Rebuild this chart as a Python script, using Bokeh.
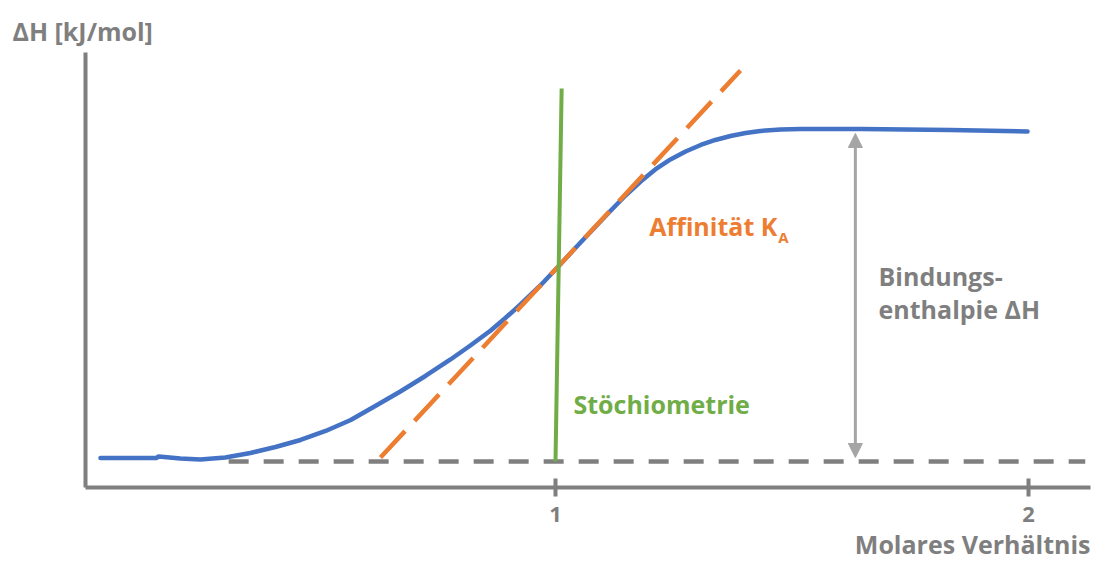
from bokeh.plotting import figure
from bokeh.models import Label, Arrow, NormalHead, Range1d, FixedTicker, Title
from bokeh.embed import file_html
from bokeh.resources import INLINE

# ---- data (molar ratio vs. enthalpy, arbitrary units: baseline 0, plateau 10) ----
curve_x = [0.038, 0.156, 0.161, 0.207, 0.249, 0.302, 0.355, 0.408, 0.461, 0.514,
           0.567, 0.619, 0.672, 0.725, 0.778, 0.820, 0.863, 0.894, 0.926, 0.968,
           1.004, 1.042, 1.080, 1.116, 1.148, 1.180, 1.211, 1.243, 1.275, 1.307,
           1.338, 1.370, 1.402, 1.433, 1.476, 1.518, 1.645, 1.835, 1.998]
curve_y = [0.105, 0.105, 0.150, 0.090, 0.060, 0.120, 0.255, 0.435, 0.646, 0.916,
           1.246, 1.667, 2.102, 2.568, 3.063, 3.483, 3.934, 4.309, 4.715, 5.285,
           5.826, 6.411, 6.982, 7.523, 7.988, 8.408, 8.769, 9.069, 9.309, 9.505,
           9.655, 9.775, 9.865, 9.925, 9.970, 9.985, 9.985, 9.955, 9.910]

tangent_x = [0.630, 1.391]          # affinity tangent (orange, dashed)
tangent_y = [0.12, 11.74]

stoich_x = [1.000, 1.013]           # stoichiometry marker (green)
stoich_y = [0.00, 11.20]

base_x = [0.309, 2.120]             # baseline (grey, dashed)
base_y = [0.0, 0.0]

arrow_x = 1.634                     # binding enthalpy arrow
arrow_y = [9.85, 0.12]

x_ticks = [1, 2]

BLUE = "#4472c4"
ORANGE = "#ed7d31"
GREEN = "#70ad47"
GREY = "#7f7f7f"
LGREY = "#a5a5a5"
FONT = "Open Sans"

p = figure(width=1094, height=561,
           x_range=Range1d(0.00634, 2.1311), y_range=Range1d(-0.781, 12.282),
           output_backend="svg", toolbar_location=None,
           min_border_left=85, min_border_right=4, min_border_top=52, min_border_bottom=74)
p.outline_line_color = None
p.grid.visible = False
p.background_fill_color = "white"
p.border_fill_color = "white"

# y label as title (top-left)
p.title.text = "ΔH [kJ/mol]"
p.title.align = "left"
p.title.vertical_align = "top"
p.title.offset = -73
p.title.standoff = 6
p.title.text_font = FONT
p.title.text_font_style = "bold"
p.title.text_font_size = "25px"
p.title.text_color = GREY

# x axis
p.xaxis.ticker = FixedTicker(ticks=x_ticks)
p.xaxis.axis_line_width = 4
p.xaxis.axis_line_color = GREY
p.xaxis.major_tick_line_color = GREY
p.xaxis.major_tick_line_width = 4
p.xaxis.major_tick_in = 9
p.xaxis.major_tick_out = 9
p.xaxis.minor_tick_line_color = None
p.xaxis.major_label_text_font = FONT
p.xaxis.major_label_text_font_style = "bold"
p.xaxis.major_label_text_font_size = "22px"
p.xaxis.major_label_text_color = GREY
p.xaxis.major_label_standoff = 10

# x label (bottom-right)
p.add_layout(Title(text="Molares Verhältnis", align="right", offset=0, standoff=0,
                   text_font=FONT, text_font_style="bold", text_font_size="25px",
                   text_color=GREY, text_line_height=1.0), "below")

# y axis (line only)
p.yaxis.ticker = FixedTicker(ticks=[])
p.yaxis.axis_line_width = 4
p.yaxis.axis_line_color = GREY
p.yaxis.major_tick_line_color = None
p.yaxis.minor_tick_line_color = None
p.yaxis.major_label_text_font_size = "0px"

# baseline
p.line(base_x, base_y, line_color=GREY, line_width=4.5, line_dash="20 15")
# curve
p.line(curve_x, curve_y, line_color=BLUE, line_width=4.5, line_join="round", line_cap="round")
# tangent
p.line(tangent_x, tangent_y, line_color=ORANGE, line_width=4.5, line_dash="36 14")
# stoichiometry
p.line(stoich_x, stoich_y, line_color=GREEN, line_width=4)

# arrow
p.add_layout(Arrow(x_start=arrow_x, y_start=arrow_y[0], x_end=arrow_x, y_end=arrow_y[1],
                   line_color=LGREY, line_width=3,
                   start=NormalHead(size=14, fill_color=LGREY, line_color=LGREY),
                   end=NormalHead(size=14, fill_color=LGREY, line_color=LGREY)))

def lab(x, y, text, color, size="25px", align="left"):
    p.add_layout(Label(x=x, y=y, text=text, text_color=color, text_font=FONT,
                       text_font_style="bold", text_font_size=size,
                       text_align=align, text_baseline="alphabetic"))

lab(1.469, 7.06, "Affinität K", ORANGE, align="right")
lab(1.471, 6.73, "A", ORANGE, size="15px")
lab(1.038, 1.74, "Stöchiometrie", GREEN)
lab(1.683, 5.56, "Bindungs-", GREY)
lab(1.683, 4.59, "enthalpie ΔH", GREY)

open("out.html", "w").write(file_html(p, INLINE))
